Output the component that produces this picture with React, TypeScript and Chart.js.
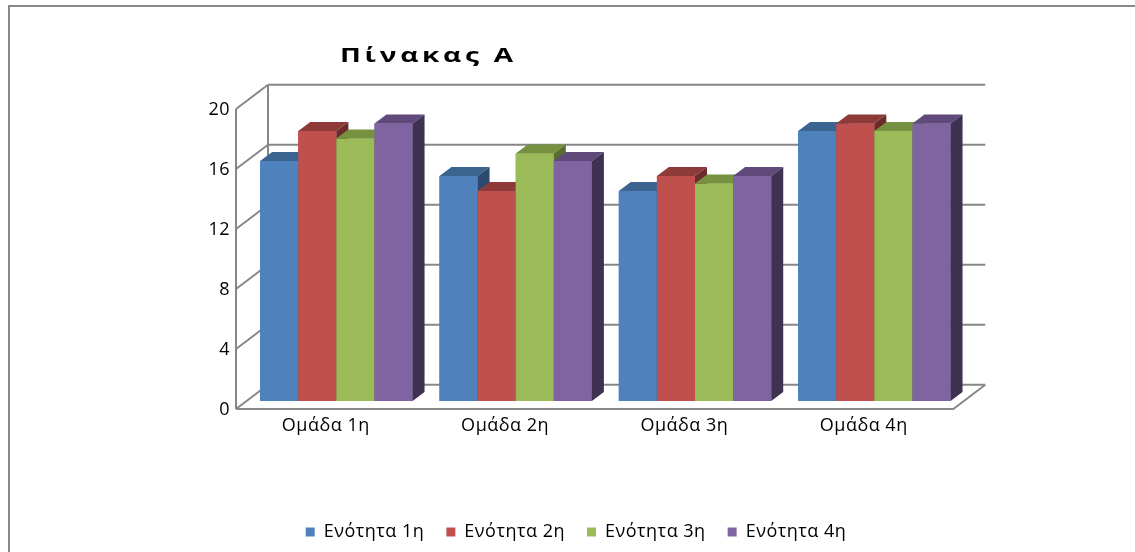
import React, { useEffect, useRef } from 'react';
import { Chart, registerables } from 'chart.js';

Chart.register(...registerables);

const categories = ['Ομάδα 1η', 'Ομάδα 2η', 'Ομάδα 3η', 'Ομάδα 4η'];
const seriesNames = ['Ενότητα 1η', 'Ενότητα 2η', 'Ενότητα 3η', 'Ενότητα 4η'];
const enotita1 = [16, 15, 14, 18];
const enotita2 = [18, 14, 15, 18.5];
const enotita3 = [17.5, 16.5, 14.5, 18];
const enotita4 = [18.5, 16, 15, 18.5];
const yTicks = [0, 4, 8, 12, 16, 20];
const chartTitle = 'Πίνακας Α';

const frontColors = ['#4F81BD', '#C0504D', '#9BBB59', '#8064A2'];
const topColors = ['#3B6491', '#8E3A38', '#769240', '#604A7B'];
const sideColors = ['#2C4A6E', '#6A2B2A', '#586D2F', '#3F3152'];

const FONT = "'Open Sans', 'Liberation Sans', sans-serif";
const LETTER_SPACING = '0.5px';
const GRID_COLOR = '#878787';
const BAR_DX = 12;
const BAR_DY = 9;
const FRONT = { x: -10.7, y: 8 };
const BACK = { x: 21.3, y: -16.3 };

const threeDPlugin = {
  id: 'threeD',
  beforeUpdate(chart: any) {
    chart.ctx.letterSpacing = LETTER_SPACING;
  },
  beforeDraw(chart: any) {
    const ctx = chart.ctx;
    ctx.letterSpacing = LETTER_SPACING;
    ctx.save();
    ctx.strokeStyle = '#888888';
    ctx.lineWidth = 2;
    ctx.beginPath();
    ctx.moveTo(9, chart.height);
    ctx.lineTo(9, 6);
    ctx.lineTo(chart.width, 6);
    ctx.stroke();
    ctx.restore();
  },
  beforeDatasetsDraw(chart: any) {
    const ctx = chart.ctx;
    const ys = chart.scales.y;
    const { left, right } = chart.chartArea;
    const y0 = ys.getPixelForValue(0);
    const yTop = ys.getPixelForValue(yTicks[yTicks.length - 1]);
    ctx.save();
    ctx.strokeStyle = GRID_COLOR;
    ctx.lineWidth = 2;
    ctx.beginPath();
    for (const v of yTicks) {
      const py = ys.getPixelForValue(v);
      ctx.moveTo(left + FRONT.x, py + FRONT.y);
      ctx.lineTo(left + BACK.x, py + BACK.y);
      ctx.moveTo(left + BACK.x, py + BACK.y);
      ctx.lineTo(right + BACK.x, py + BACK.y);
    }
    ctx.moveTo(left + FRONT.x, y0 + FRONT.y);
    ctx.lineTo(left + FRONT.x, yTop + FRONT.y);
    ctx.moveTo(left + BACK.x, y0 + BACK.y);
    ctx.lineTo(left + BACK.x, yTop + BACK.y);
    ctx.moveTo(left + FRONT.x, y0 + FRONT.y);
    ctx.lineTo(right + FRONT.x, y0 + FRONT.y);
    ctx.lineTo(right + BACK.x, y0 + BACK.y);
    ctx.stroke();
    ctx.restore();
  },
  afterDatasetsDraw(chart: any) {
    const ctx = chart.ctx;
    const nSeries = chart.data.datasets.length;
    ctx.save();
    for (let j = 0; j < chart.data.labels.length; j++) {
      for (let i = 0; i < nSeries; i++) {
        const bar = chart.getDatasetMeta(i).data[j];
        if (!bar) continue;
        const { x, y, base, width } = bar.getProps(['x', 'y', 'base', 'width'], true);
        const l = x - width / 2;
        const r = x + width / 2;
        ctx.fillStyle = frontColors[i];
        ctx.fillRect(l, y, r - l, base - y);
        ctx.fillStyle = topColors[i];
        ctx.beginPath();
        ctx.moveTo(l, y);
        ctx.lineTo(l + BAR_DX, y - BAR_DY);
        ctx.lineTo(r + BAR_DX, y - BAR_DY);
        ctx.lineTo(r, y);
        ctx.closePath();
        ctx.fill();
        ctx.fillStyle = sideColors[i];
        ctx.beginPath();
        ctx.moveTo(r, y);
        ctx.lineTo(r + BAR_DX, y - BAR_DY);
        ctx.lineTo(r + BAR_DX, base - BAR_DY);
        ctx.lineTo(r, base);
        ctx.closePath();
        ctx.fill();
      }
    }
    ctx.restore();
  },
  afterDraw(chart: any) {
    const ctx = chart.ctx;
    ctx.save();
    ctx.letterSpacing = '0px';
    ctx.font = `bold 20px ${FONT}`;
    ctx.fillStyle = '#000000';
    ctx.textAlign = 'left';
    ctx.textBaseline = 'alphabetic';
    const stretch = 1.4;
    const w = ctx.measureText(chartTitle).width;
    const ls = Math.max(0, (173 / stretch - w) / (chartTitle.length - 1));
    ctx.letterSpacing = `${ls}px`;
    ctx.translate(340, 62);
    ctx.scale(stretch, 1);
    ctx.fillText(chartTitle, 0, 0);
    ctx.restore();
  },
};

export default function App() {
  const ref = useRef<HTMLCanvasElement | null>(null);
  useEffect(() => {
    if (!ref.current) return;
    const series = [enotita1, enotita2, enotita3, enotita4];
    const chart = new Chart(ref.current, {
      type: 'bar',
      data: {
        labels: categories,
        datasets: series.map((d, i) => ({
          label: seriesNames[i],
          data: d,
          backgroundColor: frontColors[i],
          borderWidth: 0,
          categoryPercentage: 0.85,
          barPercentage: 1,
          yAxisID: 'y',
        })),
      },
      options: {
        animation: false,
        responsive: false,
        devicePixelRatio: 1,
        layout: { padding: { left: 17, right: 0, top: 101, bottom: 1 } },
        plugins: {
          title: { display: false },
          tooltip: { enabled: false },
          legend: {
            position: 'bottom',
            labels: {
              boxWidth: 9,
              boxHeight: 9,
              padding: 22,
              color: '#000000',
              font: { family: FONT, size: 18 },
            },
          },
        },
        scales: {
          x: {
            grid: { display: false, drawTicks: false },
            border: { display: false },
            ticks: {
              color: '#000000',
              font: { family: FONT, size: 18 },
              padding: 14,
              labelOffset: -10.6,
              maxRotation: 0,
            },
            afterFit: (s: any) => {
              s.height = 100;
            },
          },
          y: {
            min: 0,
            max: 20,
            grid: { display: false, drawTicks: false },
            border: { display: false },
            ticks: {
              color: '#000000',
              font: { family: FONT, size: 18 },
              padding: 16.7,
              labelOffset: 8.5,
            },
            afterBuildTicks: (s: any) => {
              s.ticks = yTicks.map((v) => ({ value: v }));
            },
            afterFit: (s: any) => {
              s.width = 229.7;
            },
          },
          yR: {
            position: 'right',
            display: true,
            grid: { display: false, drawTicks: false },
            border: { display: false },
            ticks: { display: false },
            afterFit: (s: any) => {
              s.width = 171;
            },
          },
        },
      },
      plugins: [threeDPlugin],
    } as any);
    return () => chart.destroy();
  }, []);
  return (
    <div style={{ position: 'fixed', left: 0, top: 0, width: 1135, height: 552 }}>
      <canvas ref={ref} width={1135} height={552} style={{ display: 'block', width: 1135, height: 552 }} />
    </div>
  );
}
